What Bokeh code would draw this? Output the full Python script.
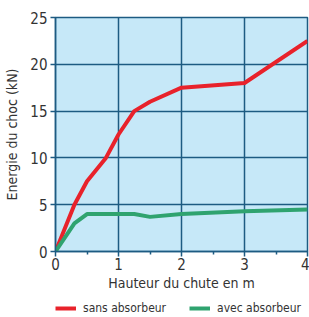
from bokeh.plotting import figure
from bokeh.layouts import column
from bokeh.embed import file_html
from bokeh.resources import INLINE
from bokeh.models import Legend, LegendItem, FixedTicker, Range1d

# Data
hauteur_sans = [0, 0.3, 0.5, 0.8, 1.0, 1.25, 1.5, 2.0, 3.0, 4.0]
energie_sans = [0, 5.0, 7.5, 10.0, 12.5, 15.0, 16.0, 17.5, 18.0, 22.5]
hauteur_avec = [0, 0.3, 0.5, 1.0, 1.25, 1.5, 2.0, 3.0, 4.0]
energie_avec = [0, 3.0, 4.0, 4.0, 4.0, 3.7, 4.0, 4.3, 4.5]
x_ticks = [0, 1, 2, 3, 4]
y_ticks = [0, 5, 10, 15, 20, 25]
series_labels = ["sans absorbeur", "avec absorbeur"]

FONT = "DejaVu Sans Condensed"
GRID = "#1d5b82"
RED = "#e8222b"
GREEN = "#2fa36f"
TXT = "#333333"

p = figure(width=309, height=295, output_backend="svg", toolbar_location=None,
           x_range=Range1d(0, 4), y_range=Range1d(0, 25),
           min_border_left=55, min_border_right=2, min_border_top=17, min_border_bottom=44)
p.background_fill_color = "#c6e8f8"
p.border_fill_color = "white"
p.outline_line_color = GRID
p.outline_line_width = 1.5

p.xaxis.ticker = FixedTicker(ticks=x_ticks, minor_ticks=[0.5, 1.5, 2.5, 3.5])
p.yaxis.ticker = FixedTicker(ticks=y_ticks)

for ax in (p.xaxis, p.yaxis):
    ax.axis_line_color = GRID
    ax.axis_line_width = 1.5
    ax.major_tick_line_color = GRID
    ax.major_tick_line_width = 1.5
    ax.major_tick_in = 0
    ax.major_tick_out = 5
    ax.major_label_text_font = FONT
    ax.major_label_text_font_size = "15px"
    ax.major_label_text_color = TXT
    ax.axis_label_text_font = FONT
    ax.axis_label_text_font_size = "14px"
    ax.axis_label_text_font_style = "normal"
    ax.axis_label_text_color = TXT

p.xaxis.minor_tick_line_color = GRID
p.xaxis.minor_tick_line_width = 1.5
p.xaxis.minor_tick_in = 0
p.xaxis.minor_tick_out = 3
p.yaxis.minor_tick_line_color = None
p.xaxis.major_label_standoff = 1
p.yaxis.major_label_standoff = 3
p.xaxis.axis_label = "Hauteur du chute en m"
p.yaxis.axis_label = "Energie du choc (kN)"
p.xaxis.axis_label_standoff = 2
p.yaxis.axis_label_standoff = 7

p.xgrid.grid_line_color = GRID
p.ygrid.grid_line_color = GRID
p.xgrid.grid_line_width = 1.5
p.ygrid.grid_line_width = 1.5

p.line(hauteur_sans, energie_sans, line_color=RED, line_width=4, line_join="round")
p.line(hauteur_avec, energie_avec, line_color=GREEN, line_width=4, line_join="round")

# Legend strip below the chart (its series sit outside its visible ranges)
lg = figure(width=309, height=22, output_backend="svg", toolbar_location=None,
            x_axis_type=None, y_axis_type=None,
            x_range=Range1d(10, 11), y_range=Range1d(100, 101),
            min_border_left=0, min_border_right=0, min_border_top=0, min_border_bottom=0)
lg.outline_line_color = None
lg.xgrid.grid_line_color = None
lg.ygrid.grid_line_color = None
lr1 = lg.line(hauteur_sans, energie_sans, line_color=RED, line_width=4)
lr2 = lg.line(hauteur_avec, energie_avec, line_color=GREEN, line_width=4)
legend = Legend(items=[LegendItem(label=series_labels[0], renderers=[lr1]),
                       LegendItem(label=series_labels[1], renderers=[lr2])],
                orientation="horizontal", location=(0, 0),
                label_text_font=FONT, label_text_font_size="12px",
                label_text_color=TXT, glyph_width=21, label_standoff=7,
                spacing=23, padding=0, margin=0, border_line_color=None,
                background_fill_alpha=0, label_height=18, glyph_height=18)
lg.add_layout(legend)

layout = column(p, lg, spacing=0)
open("out.html", "w").write(file_html(layout, INLINE))
